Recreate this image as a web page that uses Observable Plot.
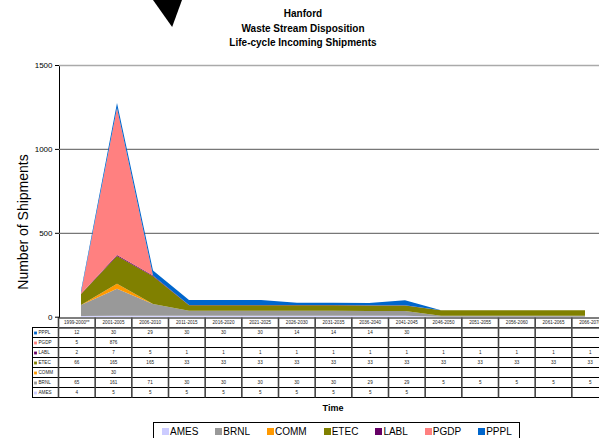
<!DOCTYPE html>
<html><head><meta charset="utf-8">
<script src="https://cdn.jsdelivr.net/npm/d3@7"></script>
<script src="https://cdn.jsdelivr.net/npm/@observablehq/plot@0.6"></script>
<style>
html,body{margin:0;padding:0;background:#fff;}
#root{position:relative;width:599px;height:438px;overflow:hidden;font-family:"Liberation Sans",Arial,sans-serif;color:#000;}
#root svg{position:absolute;left:0;background:transparent !important;}
.title{position:absolute;top:7px;left:0;width:606px;text-align:center;font-weight:bold;font-size:10px;line-height:14.5px;}
.ylab{position:absolute;left:23px;top:222px;transform:translate(-50%,-50%) rotate(-90deg);font-size:14px;white-space:nowrap;}
.xlab{position:absolute;left:0;width:666px;top:403px;text-align:center;font-weight:bold;font-size:9px;line-height:10px;}
.legend{position:absolute;left:153px;top:422px;width:367px;height:30px;box-sizing:border-box;border:1px solid #000;display:flex;align-items:flex-start;padding:3px 0 0 8px;gap:17px;}
.legend .it{display:flex;align-items:center;height:11px;font-size:10px;line-height:11px;}
.legend .sw{width:7px;height:7px;margin-right:1px;}
.cursor{position:absolute;left:153px;top:0;width:29px;height:27px;background:#000;clip-path:polygon(0 0,100% 0,66% 100%);}
</style></head><body><div id="root"></div>
<script>
const titleLines = ["Hanford", "Waste Stream Disposition", "Life-cycle Incoming Shipments"];
const yLabel = "Number of Shipments";
const xLabel = "Time";
const categories = ["1999-2000**","2001-2005","2006-2010","2011-2015","2016-2020","2021-2025","2026-2030","2031-2035","2036-2040","2041-2045","2046-2050","2051-2055","2056-2060","2061-2065","2066-2070"];
const series = ["AMES","BRNL","COMM","ETEC","LABL","PGDP","PPPL"];
const colors = ["#ccccff","#999999","#ff9900","#808000","#660066","#ff8080","#0066cc"];
const AMES = [4,5,5,5,5,5,5,5,5,5,null,null,null,null,null];
const BRNL = [65,161,71,30,30,30,30,30,29,29,5,5,5,5,5];
const COMM = [null,30,null,null,null,null,null,null,null,null,null,null,null,null,null];
const ETEC = [66,165,165,33,33,33,33,33,33,33,33,33,33,33,33];
const LABL = [2,7,5,1,1,1,1,1,1,1,1,1,1,1,1];
const PGDP = [5,876,null,null,null,null,null,null,null,null,null,null,null,null,null];
const PPPL = [12,30,29,30,30,30,14,14,14,30,null,null,null,null,null];
const tableRows = ["PPPL","PGDP","LABL","ETEC","COMM","BRNL","AMES"];
const yTicks = [0,500,1000,1500];

const values = {AMES, BRNL, COMM, ETEC, LABL, PGDP, PPPL};
const root = document.getElementById("root");
const font = '"Liberation Sans", Arial, sans-serif';

const cur = document.createElement("div"); cur.className = "cursor"; root.appendChild(cur);

const t = document.createElement("div"); t.className = "title";
t.innerHTML = titleLines.map(s => `<div>${s}</div>`).join(""); root.appendChild(t);

const cellData = [];
tableRows.forEach((s, r) => categories.forEach((c, i) => cellData.push({s, r: r + 1, i, v: values[s][i]})));

const table = Plot.plot({
  width: 599, height: 82,
  marginLeft: 32.5, marginRight: -1, marginTop: 0, marginBottom: 0,
  x: {type: "linear", domain: [0, categories.length], range: [58, 608], axis: null},
  y: {type: "linear", domain: [0, tableRows.length + 1], range: [0.5, 80.5], axis: null},
  color: {domain: series, range: colors},
  style: {fontFamily: font, fontSize: "4.6px", background: "transparent", color: "#222"},
  marks: [
    Plot.rect(tableRows, {y1: (d, k) => k + 1, y2: (d, k) => k + 2, stroke: "#000", fill: "none", strokeWidth: 1}),
    Plot.ruleX(d3.range(categories.length + 1), {x: d => d, y1: () => 0, y2: () => tableRows.length + 1, stroke: "#444", strokeWidth: 1.6}),
    Plot.ruleY([0, 1], {y: d => d, x1: () => 0, x2: () => categories.length, stroke: "#555", strokeWidth: 1.6}),
    Plot.text(categories, {x: (d, i) => i + 0.5, y: () => 0.5, text: d => d, fill: "#222"}),
    Plot.text(cellData.filter(d => d.v != null), {x: d => d.i + 0.5, y: d => d.r + 0.5, text: d => String(d.v), fill: "#222"}),
    Plot.dot(tableRows, {frameAnchor: "left", y: (d, k) => k + 1.5, symbol: "square", r: 1.6, fill: d => d, dx: 2.5}),
    Plot.text(tableRows, {frameAnchor: "left", y: (d, k) => k + 1.5, text: d => d, textAnchor: "start", dx: 5.5, fill: "#222"})
  ]
});
table.style.top = "317px";
root.appendChild(table);

const rows = series.flatMap(s => categories.map((c, i) => ({series: s, cat: c, value: values[s][i] ?? 0})));

const chart = Plot.plot({
  width: 599, height: 269,
  marginLeft: 59, marginRight: 0, marginTop: 10, marginBottom: 7.3,
  x: {type: "point", domain: categories, range: [58, 608], padding: 0.5, axis: null},
  y: {domain: [0, 1500], range: [261.7, 10], ticks: yTicks, tickSize: 4, tickPadding: 3, tickFormat: d => String(d), label: null, line: true},
  color: {domain: series, range: colors},
  style: {fontFamily: font, fontSize: "8px", background: "transparent", color: "#000", overflow: "visible"},
  marks: [
    Plot.ruleY(yTicks.filter(v => v > 0 && v < 1500), {stroke: "#777", strokeWidth: 1.3}),
    Plot.ruleY(yTicks.filter(v => v === 1500), {stroke: "#aaa", strokeWidth: 1.3}),
    Plot.areaY(rows, {x: "cat", y: "value", fill: "series", order: series})
  ]
});
chart.style.top = "55px";
root.appendChild(chart);

const yl = document.createElement("div"); yl.className = "ylab"; yl.textContent = yLabel; root.appendChild(yl);
const xl = document.createElement("div"); xl.className = "xlab"; xl.textContent = xLabel; root.appendChild(xl);

const lg = document.createElement("div"); lg.className = "legend";
series.forEach((s, i) => {
  const it = document.createElement("div"); it.className = "it";
  it.innerHTML = `<span class="sw" style="background:${colors[i]}"></span><span>${s}</span>`;
  lg.appendChild(it);
});
root.appendChild(lg);
</script>
</body></html>
